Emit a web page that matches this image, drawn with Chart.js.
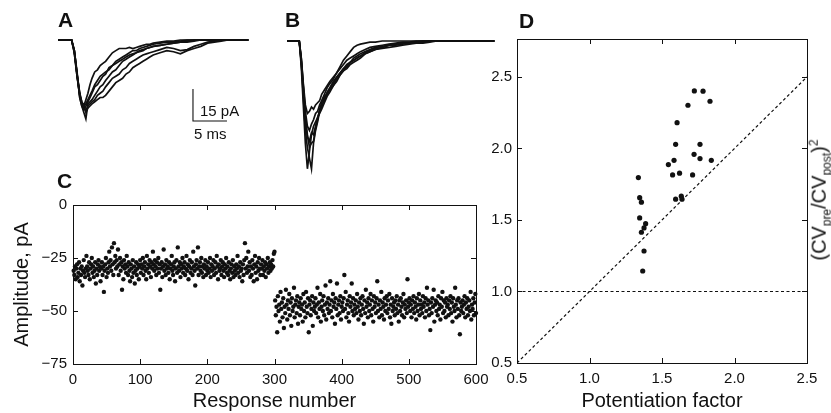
<!DOCTYPE html>
<html>
<head>
<meta charset="utf-8">
<script src="https://cdn.jsdelivr.net/npm/chart.js@4.4.1/dist/chart.umd.min.js"></script>
<style>
  body { margin: 0; background: #fff; }
  #fig { position: relative; width: 831px; height: 413px; overflow: hidden; font-family: "Liberation Sans", Arial, sans-serif; color: #111; }
  canvas { position: absolute; }
  .lab { position: absolute; font-weight: bold; font-size: 21px; line-height: 21px; }
  .txt { position: absolute; font-size: 15px; line-height: 15px; white-space: nowrap; }
  #ytitleD { position: absolute; left: 820px; top: 200px; font-size: 20px; line-height: 20px; white-space: nowrap; transform: translate(-50%, -50%) rotate(-90deg); }
  #ytitleD sub, #ytitleD sup { font-size: 12px; }
</style>
</head>
<body>
<div id="fig">
  <canvas id="chartA" width="210" height="140" style="left:50px;top:20px"></canvas>
  <canvas id="chartB" width="225" height="160" style="left:280px;top:20px"></canvas>
  <canvas id="chartC" width="500" height="223" style="left:0px;top:190px"></canvas>
  <canvas id="chartD" width="341" height="413" style="left:490px;top:0px"></canvas>
  <div class="lab" style="left:58px;top:9px">A</div>
  <div class="lab" style="left:285px;top:9px">B</div>
  <div class="lab" style="left:57px;top:170px">C</div>
  <div class="lab" style="left:519px;top:10px">D</div>
  <div class="txt" style="left:200px;top:103px">15 pA</div>
  <div class="txt" style="left:194px;top:126px">5 ms</div>
  <div id="ytitleD">(CV<sub>pre</sub>/CV<sub>post</sub>)<sup>2</sup></div>
</div>
<script>
// ---- panel A: EPSC traces before potentiation (ms, pA)
const timeA = [0, 2.0, 2.4, 2.8, 3.2, 3.5, 3.8, 4.1, 4.4, 4.7, 5.0, 5.4, 5.8, 6.2, 6.6, 7.0, 7.5, 8.0, 8.5, 9.0, 9.5, 10, 10.5, 11, 11.5, 12, 12.5, 13, 13.5, 14, 15, 16, 17, 18, 19, 20, 21, 22, 23, 24, 25, 26, 27, 28];
const tracesA = [
  [0, 0, -6, -17, -26, -29, -31, -28, -25, -21, -18, -15, -14, -12, -11, -10, -8, -6, -5, -4, -4, -4, -3.5, -4, -3.5, -3, -2.5, -2, -2, -1.5, -1, -0.5, -0.5, 0, 0, 0, 0, 0, 0, 0, 0, 0, 0, 0],
  [0, 0, -5, -16, -25, -30, -33, -31, -29, -27, -25, -22, -21, -19, -17, -16, -13, -12, -10, -9, -8, -7, -6, -5, -5, -4, -3.5, -3, -2.5, -2, -1.5, -1, -1, -0.5, 0, 0, 0, 0, 0, 0, 0, 0, 0, 0],
  [0, 0, -5, -15, -27, -31, -34, -37, -30, -29, -28, -26, -24, -22, -21, -19, -17, -15, -14, -12, -10, -9, -8, -7, -6, -5.5, -5, -4, -3.5, -3, -2.5, -2, -1.5, -1, -0.5, 0, 0, 0, 0, 0, 0, 0, 0, 0],
  [0, 0, -6, -17, -26, -30, -32, -33, -31, -30, -29, -28, -26, -25, -24, -22, -20, -18, -17, -16, -14, -13, -11, -10, -9, -8, -7, -6.5, -6, -5.5, -4.5, -3.5, -4, -5, -4.5, -3, -2, -1, -0.5, 0, 0, 0, 0, 0],
  [0, 0, -5, -16, -27, -31, -30, -34, -32, -31, -30, -29, -28, -27, -27, -26, -24, -22, -20, -19, -18, -16, -15, -13, -12, -11, -10, -9, -8, -7, -6, -5, -5.5, -6.5, -5, -4, -3, -1.5, -1, -0.5, 0, 0, 0, 0],
  [0, 0, -5, -16, -25, -29, -31, -30, -28, -26, -24, -21, -19, -17, -16, -15, -14, -12, -11, -10, -9, -8, -7, -6.5, -6, -5, -4.5, -4, -3.5, -3, -2.5, -2, -1.5, -1, -1, -0.5, 0, 0, 0, 0, 0, 0, 0, 0]
];
// scale bar: 15 pA / 5 ms
const scaleBarT = [19.85, 19.85, 24.85];
const scaleBarI = [-23, -38, -38];

// ---- panel B: EPSC traces after potentiation
const timeB = [0, 1.8, 2.1, 2.4, 2.7, 3.0, 3.3, 3.6, 3.9, 4.2, 4.5, 4.8, 5.1, 5.5, 5.9, 6.3, 6.8, 7.3, 7.8, 8.3, 8.8, 9.3, 9.8, 10.3, 10.8, 11.5, 12.2, 13, 14, 15, 16, 17, 18, 19, 20, 21, 22, 23, 24, 25, 26, 27, 28, 29, 30.5];
const tracesB = [
  [0, 0, -8, -20, -30, -34, -33, -31, -32, -30, -29, -28, -25, -23, -21, -19, -17, -15, -12, -9, -7, -5, -3, -2, -1.5, -1, -0.5, -0.5, 0, 0, 0, 0, 0, 0, 0, 0, 0, 0, 0, 0, 0, 0, 0, 0, 0],
  [0, 0, -12, -30, -48, -60, -52, -44, -40, -38, -36, -34, -32, -29, -26, -24, -21, -18, -16, -14, -12, -10, -9, -8, -7, -5.5, -4.5, -3.5, -3, -2, -1.5, -1, -1, -0.5, -0.5, 0, 0, 0, 0, 0, 0, 0, 0, 0, 0],
  [0, 0, -10, -26, -42, -50, -55, -60, -48, -42, -38, -33, -30, -28, -25, -22, -20, -17, -15, -13, -11, -10, -8, -7, -6, -5, -4, -3, -2.5, -2, -1.5, -1, -1, -0.5, 0, 0, 0, 0, 0, 0, 0, 0, 0, 0, 0],
  [0, 0, -10, -24, -38, -45, -47, -43, -44, -40, -36, -33, -31, -27, -24, -22, -19, -17, -15, -13, -12, -10, -9, -8, -7, -6, -5, -4, -3, -2, -2, -1.5, -1, -1, -0.5, 0, 0, 0, 0, 0, 0, 0, 0, 0, 0],
  [0, 0, -9, -22, -36, -44, -50, -48, -47, -41, -37, -32, -29, -26, -25, -23, -21, -19, -16, -14, -13, -11, -10, -9, -8, -6, -5, -4, -3.5, -3, -2.5, -2, -1.5, -1, -1, -0.5, 0, 0, 0, 0, 0, 0, 0, 0, 0],
  [0, 0, -8, -21, -33, -40, -42, -39, -37, -34, -33, -30, -28, -25, -22, -20, -18, -15, -13, -11, -9, -8, -7, -6, -5, -4, -3, -2.5, -2, -1.5, -1, -0.5, -0.5, 0, 0, 0, 0, 0, 0, 0, 0, 0, 0, 0, 0]
];

// ---- panel C: EPSC amplitude (pA) per response, responses 1-300 then 301-600
const ampBefore = [
  -31, -33, -29, -35, -30, -28, -34, -32, -27, -36, -30, -33, -29, -38, -31, -26, -32, -34, -30, -24,
  -29, -31, -33, -27, -35, -30, -28, -25, -32, -29, -34, -31, -27, -37, -30, -33, -28, -26, -31, -29,
  -36, -30, -27, -33, -29, -41, -31, -28, -25, -34, -30, -32, -27, -22, -29, -26, -31, -20, -28, -33,
  -18, -27, -24, -30, -26, -29, -21, -33, -28, -25, -31, -27, -40, -29, -35, -26, -30, -28, -32, -24,
  -29, -33, -27, -31, -36, -28, -30, -34, -26, -32, -29, -37, -31, -27, -33, -30, -28, -35, -29, -26,
  -32, -28, -30, -25, -33, -29, -27, -31, -35, -24, -30, -28, -32, -26, -29, -34, -27, -30, -22, -28,
  -31, -26, -29, -33, -27, -30, -25, -32, -28, -40, -30, -27, -34, -29, -21, -31, -28, -33, -26, -30,
  -29, -32, -27, -35, -30, -28, -24, -31, -33, -29, -27, -36, -30, -26, -32, -20, -29, -31, -27, -34,
  -28, -30, -25, -32, -29, -27, -33, -30, -24, -31, -28, -35, -29, -26, -32, -30, -27, -33, -22, -29,
  -31, -38, -28, -26, -30, -20, -33, -29, -27, -31, -25, -32, -29, -34, -28, -30, -26, -33, -29, -31,
  -27, -32, -30, -25, -34, -28, -31, -29, -26, -33, -30, -27, -32, -24, -29, -35, -28, -31, -30, -26,
  -33, -29, -27, -31, -34, -28, -30, -25, -32, -29, -33, -27, -31, -35, -30, -28, -32, -26, -34, -29,
  -31, -33, -28, -30, -24, -32, -29, -34, -27, -31, -30, -36, -28, -33, -26, -18, -30, -25, -32, -29,
  -22, -31, -27, -34, -29, -33, -26, -30, -36, -28, -24, -32, -29, -35, -27, -31, -25, -30, -33, -28,
  -30, -26, -33, -29, -31, -27, -34, -28, -30, -25, -32, -29, -27, -31, -28, -30, -26, -29, -23, -22
];
const ampAfter = [
  -45, -52, -48, -60, -43, -50, -47, -55, -41, -49, -46, -53, -44, -58, -48, -51, -40, -47, -54, -45,
  -49, -42, -52, -46, -57, -44, -50, -48, -39, -53, -47, -45, -51, -43, -56, -48, -46, -52, -44, -49,
  -47, -55, -42, -50, -46, -53, -41, -48, -51, -44, -60, -47, -45, -52, -49, -43, -57, -46, -50, -48,
  -44, -51, -47, -39, -53, -46, -49, -42, -55, -48, -45, -50, -43, -52, -47, -38, -54, -46, -49, -44,
  -51, -47, -36, -50, -45, -53, -42, -48, -46, -56, -44, -49, -37, -52, -47, -45, -51, -43, -54, -48,
  -46, -50, -44, -33, -49, -41, -53, -47, -45, -51, -55, -43, -48, -46, -37, -50, -44, -52, -47, -49,
  -45, -51, -42, -48, -54, -46, -50, -44, -52, -47, -43, -49, -56, -45, -51, -40, -48, -46, -53, -44,
  -50, -47, -42, -52, -45, -49, -55, -43, -48, -46, -51, -44, -36, -50, -47, -53, -45, -49, -41, -52,
  -46, -48, -54, -44, -50, -47, -43, -51, -45, -49, -42, -53, -47, -56, -44, -50, -48, -46, -52, -45,
  -49, -43, -51, -47, -55, -45, -50, -44, -48, -52, -46, -42, -53, -47, -49, -45, -51, -35, -48, -46,
  -44, -50, -47, -53, -45, -49, -43, -51, -46, -48, -54, -44, -50, -47, -42, -52, -45, -49, -47, -51,
  -43, -48, -46, -53, -44, -50, -39, -47, -45, -52, -49, -59, -46, -51, -44, -48, -40, -55, -47, -45,
  -50, -46, -52, -43, -49, -47, -54, -44, -48, -41, -51, -45, -50, -46, -53, -44, -48, -47, -52, -45,
  -49, -43, -51, -46, -55, -44, -48, -50, -39, -47, -53, -45, -49, -44, -52, -61, -46, -50, -48, -45,
  -51, -47, -43, -53, -46, -49, -44, -52, -48, -45, -50, -41, -54, -47, -49, -44, -52, -46, -42, -51
];
const ticksC_x = [0, 100, 200, 300, 400, 500, 600];
const ticksC_y = [0, -25, -50, -75];

// ---- panel D: potentiation factor vs (CV ratio)^2, one point per cell
const potFactor = [1.723, 1.783, 1.679, 1.831, 1.604, 1.594, 1.762, 1.721, 1.762, 1.583, 1.840, 1.544, 1.573, 1.621, 1.711,
  1.337, 1.346, 1.358, 1.594, 1.633, 1.638, 1.346, 1.387, 1.376, 1.358, 1.376, 1.367];
const cvRatio = [2.402, 2.40, 2.302, 2.330, 2.180, 2.029, 2.029, 1.959, 1.929, 1.917, 1.917, 1.887, 1.815, 1.827, 1.815,
  1.796, 1.656, 1.624, 1.645, 1.666, 1.645, 1.514, 1.474, 1.444, 1.414, 1.283, 1.143];
const identityLine = [0.5, 2.5];
const unityLine = [1, 1];
const ticksD = [0.5, 1.0, 1.5, 2.0, 2.5];

const FONT = "'Liberation Sans', Arial, sans-serif";
const INK = "#111";

// frame box with short inward tick marks on all four sides
const frameTicks = {
  id: "frameTicks",
  beforeDatasetsDraw(chart, args, opts) {
    if (!opts.on) return;
    const { ctx, chartArea: a, scales } = chart;
    const L = opts.len || 5;
    const r = v => Math.round(v) + 0.5;
    ctx.save();
    ctx.strokeStyle = INK;
    ctx.lineWidth = 1;
    ctx.strokeRect(r(a.left), r(a.top), Math.round(a.right - a.left), Math.round(a.bottom - a.top));
    ctx.beginPath();
    scales.x.ticks.forEach(t => {
      const px = r(scales.x.getPixelForValue(t.value));
      ctx.moveTo(px, a.bottom); ctx.lineTo(px, a.bottom - L);
      ctx.moveTo(px, a.top); ctx.lineTo(px, a.top + L);
    });
    scales.y.ticks.forEach(t => {
      const py = r(scales.y.getPixelForValue(t.value));
      ctx.moveTo(a.left, py); ctx.lineTo(a.left + L, py);
      ctx.moveTo(a.right, py); ctx.lineTo(a.right - L, py);
    });
    ctx.stroke();
    ctx.restore();
  }
};
Chart.register(frameTicks);

function traceSets(times, traces) {
  return traces.map(tr => ({
    data: tr.map((v, i) => ({ x: times[i], y: v })),
    borderColor: INK,
    borderWidth: 1.7,
    pointRadius: 0,
    tension: 0,
    clip: false
  }));
}

const hiddenScales = (xmin, xmax, ymin, ymax) => ({
  x: { type: "linear", display: false, min: xmin, max: xmax },
  y: { type: "linear", display: false, min: ymin, max: ymax }
});

// panel A
const setsA = traceSets(timeA, tracesA);
setsA.push({
  data: scaleBarT.map((t, i) => ({ x: t, y: scaleBarI[i] })),
  borderColor: INK, borderWidth: 1.1, pointRadius: 0, tension: 0
});
new Chart(document.getElementById("chartA"), {
  type: "line",
  data: { datasets: setsA },
  options: {
    responsive: false, animation: false,
    layout: { padding: 0 },
    plugins: { legend: { display: false }, tooltip: { enabled: false } },
    scales: hiddenScales(-8 / 6.8, -8 / 6.8 + 210 / 6.8, 20 / 2.13 - 140 / 2.13, 20 / 2.13)
  }
});

// panel B
new Chart(document.getElementById("chartB"), {
  type: "line",
  data: { datasets: traceSets(timeB, tracesB) },
  options: {
    responsive: false, animation: false,
    layout: { padding: 0 },
    plugins: { legend: { display: false }, tooltip: { enabled: false } },
    scales: hiddenScales(-7 / 6.8, -7 / 6.8 + 225 / 6.8, 21 / 2.13 - 160 / 2.13, 21 / 2.13)
  }
});

// panel C
const pointsC = ampBefore.concat(ampAfter).map((v, i) => ({ x: i + 1, y: v }));
const minus = v => (v < 0 ? "\u2212" + Math.abs(v) : String(v));
new Chart(document.getElementById("chartC"), {
  type: "scatter",
  data: { datasets: [{ data: pointsC, backgroundColor: INK, borderWidth: 0, pointRadius: 2.2, clip: false }] },
  options: {
    responsive: false, animation: false,
    layout: { padding: { top: 14, right: 24, left: 0, bottom: 0 } },
    plugins: { legend: { display: false }, tooltip: { enabled: false }, frameTicks: { on: true, len: 5 } },
    scales: {
      x: {
        type: "linear", min: 0, max: 600,
        afterBuildTicks: s => { s.ticks = ticksC_x.map(v => ({ value: v })); },
        afterFit: s => { s.height = 49; },
        grid: { display: false, drawTicks: false },
        border: { display: false },
        ticks: { color: INK, font: { family: FONT, size: 15 }, padding: 7, maxRotation: 0 },
        title: { display: true, text: "Response number", color: INK, font: { family: FONT, size: 20 }, padding: 0 }
      },
      y: {
        type: "linear", min: -75, max: 0,
        afterBuildTicks: s => { s.ticks = ticksC_y.map(v => ({ value: v })); },
        afterFit: s => { s.width = 73; },
        grid: { display: false, drawTicks: false },
        border: { display: false },
        ticks: { color: INK, font: { family: FONT, size: 15 }, padding: 6, callback: minus },
        title: { display: true, text: "Amplitude, pA", color: INK, font: { family: FONT, size: 20 }, padding: { top: 10, bottom: 0 } }
      }
    }
  }
});

// panel D
const pointsD = potFactor.map((v, i) => ({ x: v, y: cvRatio[i] }));
const dashed = (pts) => ({
  type: "line", data: pts, borderColor: INK, borderWidth: 1.2, borderDash: [3, 2.5],
  pointRadius: 0, tension: 0, showLine: true
});
new Chart(document.getElementById("chartD"), {
  type: "scatter",
  data: {
    datasets: [
      { data: pointsD, backgroundColor: INK, borderWidth: 0, pointRadius: 2.6 },
      dashed(identityLine.map(v => ({ x: v, y: v }))),
      dashed(identityLine.map((v, i) => ({ x: v, y: unityLine[i] })))
    ]
  },
  options: {
    responsive: false, animation: false,
    layout: { padding: { top: 39, right: 24, left: 0, bottom: 0 } },
    plugins: { legend: { display: false }, tooltip: { enabled: false }, frameTicks: { on: true, len: 5 } },
    scales: {
      x: {
        type: "linear", min: 0.5, max: 2.5,
        afterBuildTicks: s => { s.ticks = ticksD.map(v => ({ value: v })); },
        afterFit: s => { s.height = 50; },
        grid: { display: false, drawTicks: false },
        border: { display: false },
        ticks: { color: INK, font: { family: FONT, size: 15 }, padding: 7, maxRotation: 0, callback: v => v.toFixed(1) },
        title: { display: true, text: "Potentiation factor", color: INK, font: { family: FONT, size: 20 }, padding: 0 }
      },
      y: {
        type: "linear", min: 0.5, max: 2.765,
        afterBuildTicks: s => { s.ticks = ticksD.map(v => ({ value: v })); },
        afterFit: s => { s.width = 27; },
        grid: { display: false, drawTicks: false },
        border: { display: false },
        ticks: { color: INK, font: { family: FONT, size: 15 }, padding: 5, callback: v => v.toFixed(1) }
      }
    }
  }
});
</script>
</body>
</html>
